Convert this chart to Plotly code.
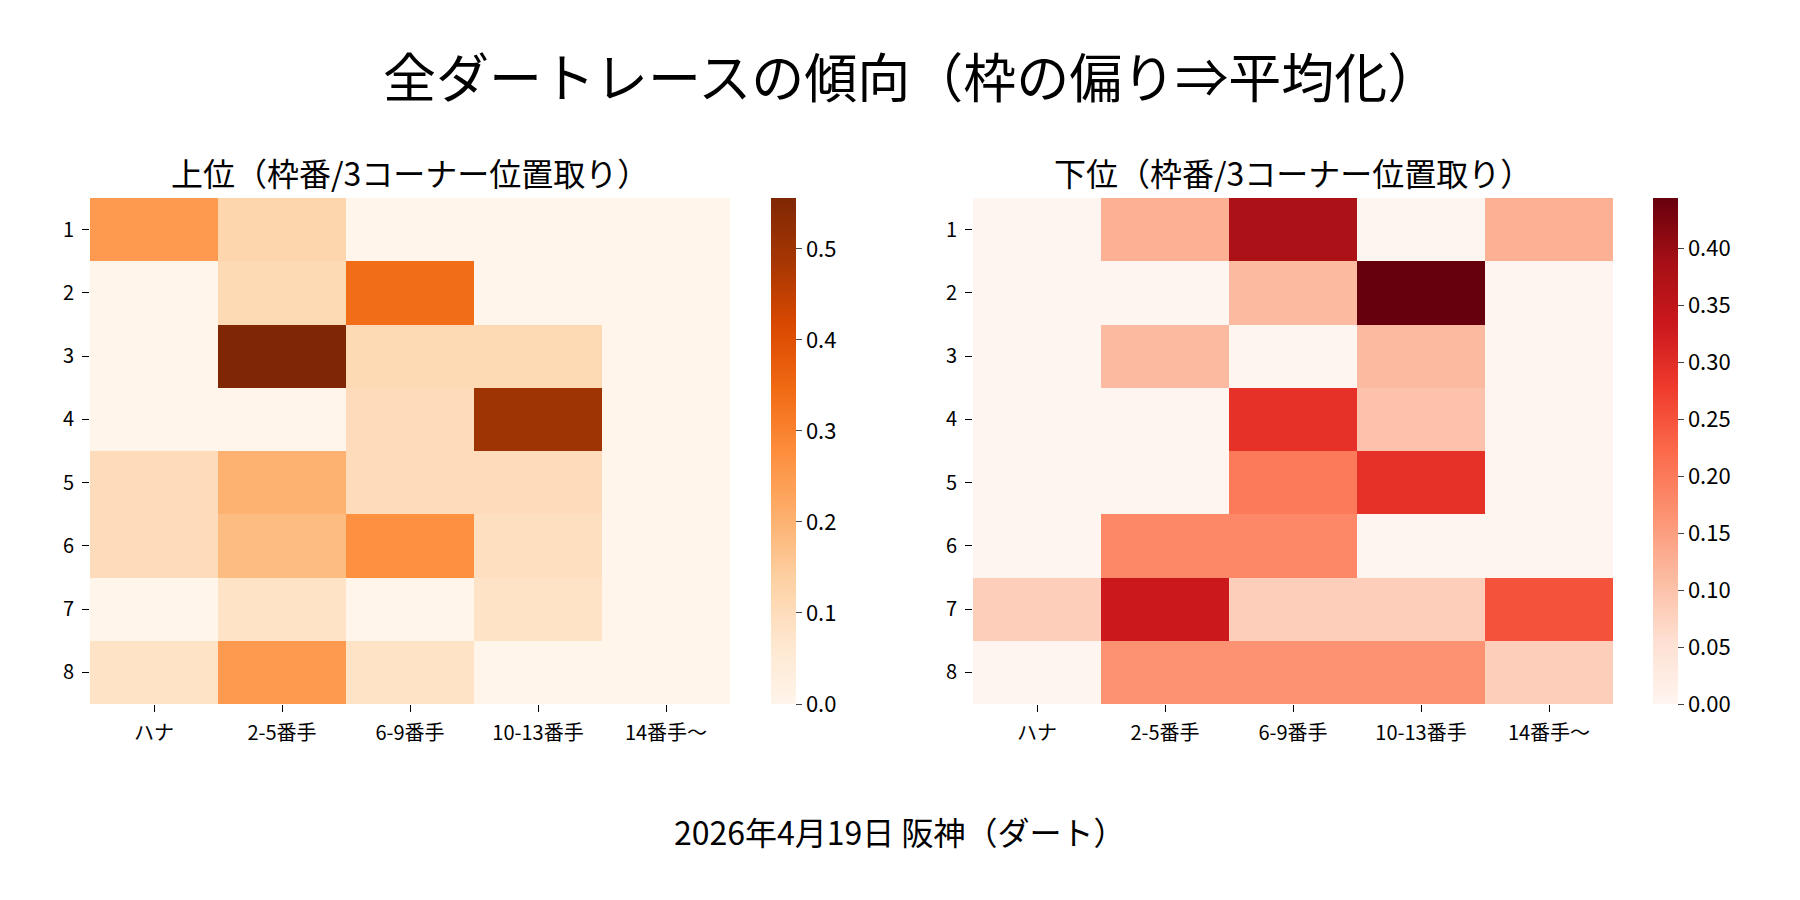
import plotly.graph_objects as go

FONT = "Noto Sans CJK JP"

positions = ["ハナ", "2-5番手", "6-9番手", "10-13番手", "14番手～"]
frames = ["1", "2", "3", "4", "5", "6", "7", "8"]

# 上位 (rows = 枠番 1..8, cols = position groups)
upper = [
    [0.25, 0.12, 0.0, 0.0, 0.0],
    [0.0, 0.11, 0.34, 0.0, 0.0],
    [0.0, 0.556, 0.11, 0.11, 0.0],
    [0.0, 0.0, 0.10, 0.50, 0.0],
    [0.10, 0.20, 0.10, 0.10, 0.0],
    [0.10, 0.18, 0.27, 0.09, 0.0],
    [0.0, 0.08, 0.0, 0.08, 0.0],
    [0.08, 0.25, 0.08, 0.0, 0.0],
]

# 下位
lower = [
    [0.0, 0.125, 0.378, 0.0, 0.125],
    [0.0, 0.0, 0.111, 0.444, 0.0],
    [0.0, 0.111, 0.0, 0.111, 0.0],
    [0.0, 0.0, 0.293, 0.10, 0.0],
    [0.0, 0.0, 0.20, 0.293, 0.0],
    [0.0, 0.18, 0.18, 0.0, 0.0],
    [0.083, 0.333, 0.083, 0.083, 0.25],
    [0.0, 0.167, 0.167, 0.167, 0.083],
]

upper_ticks = [0.0, 0.1, 0.2, 0.3, 0.4, 0.5]
lower_ticks = [0.0, 0.05, 0.10, 0.15, 0.20, 0.25, 0.30, 0.35, 0.40]

title = "全ダートレースの傾向（枠の偏り⇒平均化）"
sub_upper = "上位（枠番/3コーナー位置取り）"
sub_lower = "下位（枠番/3コーナー位置取り）"
footer = "2026年4月19日 阪神（ダート）"

W, H = 1800, 900
OFF = 8  # page body margin
y_top, y_bot = 198 - OFF, 704 - OFF
ydom = [1 - y_bot / H, 1 - y_top / H]
cb_len = (y_bot - y_top) / H
lx0, lx1 = 90 - OFF, 730 - OFF
rx0, rx1 = 973 - OFF, 1613 - OFF

cb_font = dict(family=FONT, size=22, color="black")

fig = go.Figure()

fig.add_trace(go.Heatmap(
    z=upper, x=positions, y=frames,
    colorscale="Oranges", zmin=0, zmax=max(max(r) for r in upper),
    xaxis="x", yaxis="y",
    colorbar=dict(
        x=(771 - OFF) / W, xanchor="left", y=ydom[1], yanchor="top",
        len=cb_len, lenmode="fraction", thickness=25, outlinewidth=0,
        xpad=0, ypad=0,
        tickvals=upper_ticks, tickformat=".1f", ticks="outside", ticklen=6,
        tickfont=cb_font,
    ),
))

fig.add_trace(go.Heatmap(
    z=lower, x=positions, y=frames,
    colorscale="Reds", zmin=0, zmax=max(max(r) for r in lower),
    xaxis="x2", yaxis="y2",
    colorbar=dict(
        x=(1653 - OFF) / W, xanchor="left", y=ydom[1], yanchor="top",
        len=cb_len, lenmode="fraction", thickness=25, outlinewidth=0,
        xpad=0, ypad=0,
        tickvals=lower_ticks, tickformat=".2f", ticks="outside", ticklen=6,
        tickfont=cb_font,
    ),
))

ax_common = dict(showgrid=False, zeroline=False, showline=False,
                 ticks="outside", ticklen=7, tickcolor="black",
                 ticklabelstandoff=4,
                 tickfont=dict(family=FONT, size=20, color="black"))

fig.update_layout(
    width=W, height=H,
    margin=dict(l=0, r=0, t=0, b=0),
    paper_bgcolor="white", plot_bgcolor="white",
    font=dict(family=FONT, color="black"),
    xaxis=dict(domain=[lx0 / W, lx1 / W], anchor="y", **ax_common),
    yaxis=dict(domain=ydom, anchor="x", autorange="reversed", **ax_common),
    xaxis2=dict(domain=[rx0 / W, rx1 / W], anchor="y2", **ax_common),
    yaxis2=dict(domain=ydom, anchor="x2", autorange="reversed", **ax_common),
    annotations=[
        dict(text=title, x=(911 - OFF) / W, y=1 - (75 - OFF) / H, xref="paper", yref="paper",
             showarrow=False, font=dict(family=FONT, size=53, color="black"),
             xanchor="center", yanchor="middle"),
        dict(text=sub_upper, x=(lx0 + lx1) / 2 / W, y=1 - (172 - OFF) / H,
             xref="paper", yref="paper",
             showarrow=False, font=dict(family=FONT, size=32, color="black"),
             xanchor="center", yanchor="middle"),
        dict(text=sub_lower, x=(rx0 + rx1) / 2 / W, y=1 - (172 - OFF) / H,
             xref="paper", yref="paper",
             showarrow=False, font=dict(family=FONT, size=32, color="black"),
             xanchor="center", yanchor="middle"),
        dict(text=footer, x=(900 - OFF) / W, y=1 - (831 - OFF) / H, xref="paper", yref="paper",
             showarrow=False, font=dict(family=FONT, size=32, color="black"),
             xanchor="center", yanchor="middle"),
    ],
)

fig.write_html("out.html")
